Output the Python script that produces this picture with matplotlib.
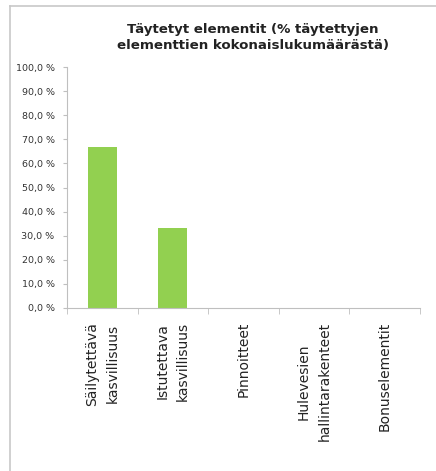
import matplotlib
matplotlib.use('Agg')
import matplotlib.pyplot as plt
from matplotlib.lines import Line2D
from matplotlib.ticker import FuncFormatter

categories = ['Säilytettävä\nkasvillisuus', 'Istutettava\nkasvillisuus', 'Pinnoitteet',
              'Hulevesien\nhallintarakenteet', 'Bonuselementit']
values = [66.7, 33.3, 0.0, 0.0, 0.0]
yticks = [0, 10, 20, 30, 40, 50, 60, 70, 80, 90, 100]

W, H = 436, 471
fig = plt.figure(figsize=(W / 100, H / 100), dpi=100)
fig.patch.set_facecolor('white')

# chart frame (top and left edge of the embedded chart box)
fig.add_artist(Line2D([10 / W, 1], [1 - 6 / H, 1 - 6 / H], color='#c8c8c8', lw=1.2))
fig.add_artist(Line2D([10 / W, 10 / W], [0, 1 - 6 / H], color='#c8c8c8', lw=1.2))

ax = fig.add_axes([67 / W, 1 - 308 / H, (420 - 67) / W, (308 - 67) / H])
x = range(len(categories))
ax.bar(x, values, width=0.41, color='#92d050')

ax.set_xlim(-0.5, len(categories) - 0.5)
ax.set_ylim(0, 100)
ax.set_yticks(yticks)
ax.yaxis.set_major_formatter(FuncFormatter(lambda v, p: f'{v:.1f}'.replace('.', ',') + ' %'))
ax.tick_params(axis='y', labelsize=6.8, length=3, color='#bfbfbf', labelcolor='#333333', pad=6)

ax.set_xticks(list(x))
ax.set_xticklabels(categories, rotation=90, fontsize=10, color='#222222',
                   multialignment='center', linespacing=1.6)
ax.tick_params(axis='x', length=0, pad=10)
# category boundary ticks
ax.set_xticks([i - 0.5 for i in range(len(categories) + 1)], minor=True)
ax.tick_params(axis='x', which='minor', length=4, color='#bfbfbf')

for s in ['top', 'right']:
    ax.spines[s].set_visible(False)
for s in ['left', 'bottom']:
    ax.spines[s].set_color('#bfbfbf')

fig.text(253 / W, 1 - 38 / H, 'Täytetyt elementit (% täytettyjen\nelementtien kokonaislukumäärästä)',
         ha='center', va='center', fontsize=9.6, fontweight='bold', color='#222222', linespacing=1.3)

fig.savefig('out.png', dpi=100)
